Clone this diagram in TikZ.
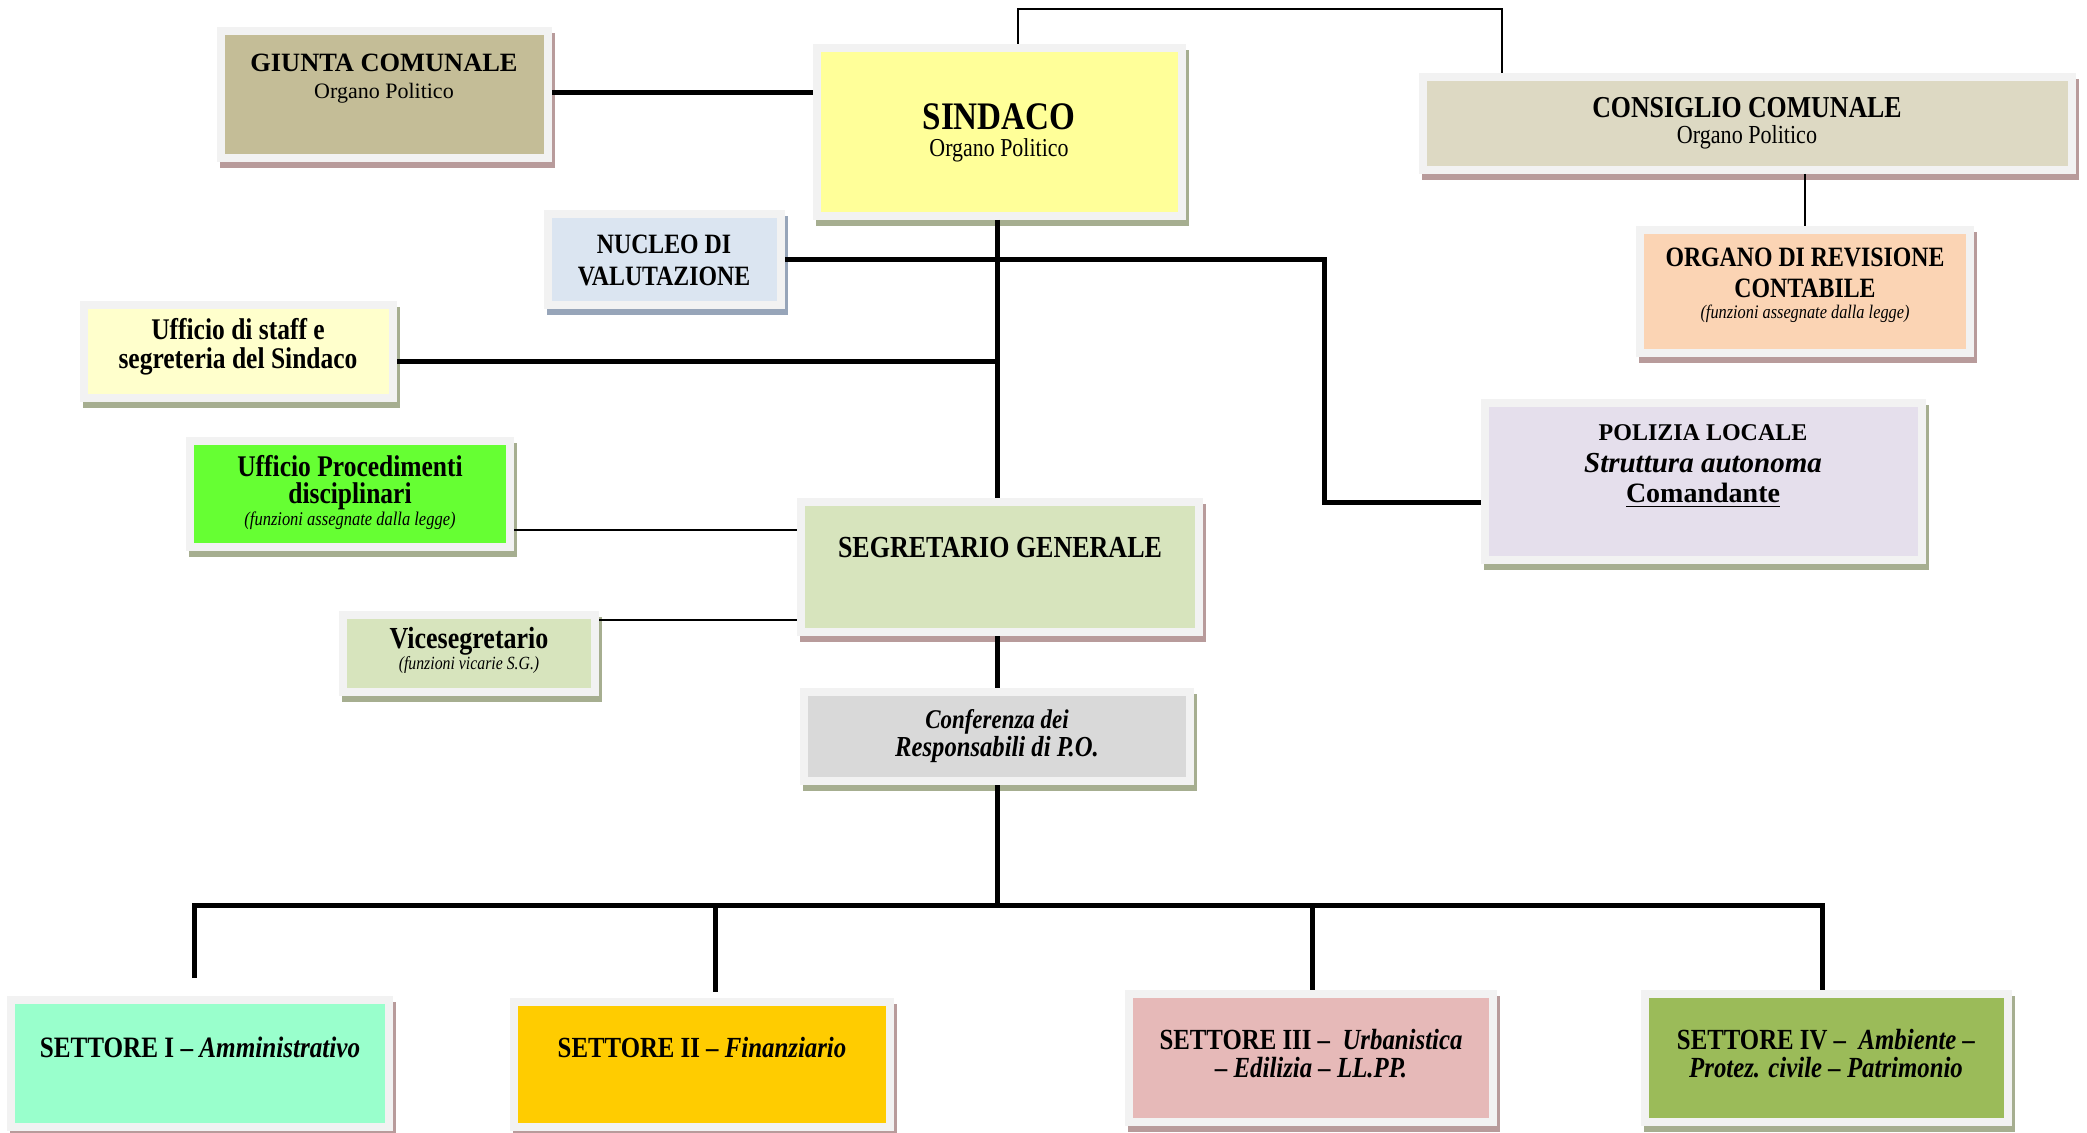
\documentclass[tikz,border=0pt]{standalone}
\usepackage{fontspec}
\setmainfont{Liberation Serif}
\newfontfamily\cf{Liberation Serif}[FakeStretch=0.85]
\usetikzlibrary{fit}
\definecolor{framegray}{HTML}{F2F2F2}
\definecolor{shpink}{HTML}{B89B9B}
\definecolor{sholive}{HTML}{A6AE90}
\definecolor{shblue}{HTML}{97A5B9}
\definecolor{cgiunta}{HTML}{C4BD97}
\definecolor{csindaco}{HTML}{FFFF99}
\definecolor{cconsiglio}{HTML}{DDD9C3}
\definecolor{corgano}{HTML}{FBD4B4}
\definecolor{cnucleo}{HTML}{DBE5F1}
\definecolor{cstaff}{HTML}{FFFFCC}
\definecolor{cproc}{HTML}{66FF33}
\definecolor{csegr}{HTML}{D7E4BD}
\definecolor{cconf}{HTML}{D9D9D9}
\definecolor{cpol}{HTML}{E5DFEC}
\definecolor{csetI}{HTML}{99FFCC}
\definecolor{csetII}{HTML}{FFCC00}
\definecolor{csetIII}{HTML}{E6B9B8}
\definecolor{csetIV}{HTML}{9BBB59}
\newcommand\setfs[1]{\fontsize{#1}{#1}\selectfont}
% name, x1, y1, x2, y2, fill, shadow
\newcommand\obox[7]{%
  \fill[#7] ({#2+3},{#3+6}) rectangle ({#4+3},{#5+6});
  \node[fit={(#2,#3)(#4,#5)}, inner sep=0pt, outer sep=0pt, fill=framegray] (#1) {};
  \fill[#6] ({#2+8},{#3+8}) rectangle ({#4-8},{#5-8});
}
\tikzset{
  txt/.style={inner sep=0pt, anchor=base, text=black},
  thickline/.style={line width=2.5pt, black},
  thinline/.style={line width=1pt, black},
  midline/.style={line width=1.4pt, black},
}
\begin{document}
\begin{tikzpicture}[x=0.5pt,y=-0.5pt]
\useasboundingbox (0,0) rectangle (2087,1133);
\fill[white] (0,0) rectangle (2087,1133);

% coordinates for connectors
\coordinate (c1) at (1018,9);
\coordinate (c2) at (1502,9);
\coordinate (yg) at (0,93);
\coordinate (vx) at (997,0);
\coordinate (pk) at (1324,260);
\coordinate (pk2) at (1324,503);
\coordinate (st) at (997,362);
\coordinate (pr) at (0,530);
\coordinate (vc) at (0,620);
\coordinate (bus) at (997,905);
\coordinate (b1) at (194,905);
\coordinate (b2) at (715,905);
\coordinate (b3) at (1312,905);
\coordinate (b4) at (1822,905);

% boxes
\obox{giunta}{217}{27}{552}{162}{cgiunta}{shpink}
\obox{sindaco}{813}{44}{1186}{220}{csindaco}{sholive}
\obox{consiglio}{1419}{73}{2076}{174}{cconsiglio}{shpink}
\obox{organo}{1636}{226}{1974}{357}{corgano}{shpink}
\obox{nucleo}{544}{210}{785}{309}{cnucleo}{shblue}
\obox{staff}{80}{301}{397}{402}{cstaff}{sholive}
\obox{proc}{186}{437}{514}{551}{cproc}{sholive}
\obox{segr}{797}{498}{1203}{636}{csegr}{shpink}
\obox{vice}{339}{611}{599}{696}{csegr}{sholive}
\obox{conf}{800}{688}{1194}{785}{cconf}{sholive}
\obox{pol}{1481}{399}{1926}{564}{cpol}{sholive}
\obox{setI}{7}{996}{393}{1131}{csetI}{shpink}
\obox{setII}{510}{998}{894}{1131}{csetII}{shpink}
\obox{setIII}{1125}{990}{1497}{1126}{csetIII}{shpink}
\obox{setIV}{1641}{990}{2012}{1126}{csetIV}{sholive}

% connectors between boxes
\draw[thinline] (c1 |- sindaco.north) -- (c1) -- (c2) -- (c2 |- consiglio.north);
\draw[thickline] (giunta.east |- yg) -- (sindaco.west |- yg);
\draw[thinline] (consiglio.south -| organo.north) -- (organo.north);
\draw[thickline] (sindaco.south -| vx) -- (segr.north -| vx);
\draw[thickline] (nucleo.east |- pk) -- (pk) -- (pk2) -- (pol.west |- pk2);
\draw[thickline] (staff.east |- st) -- (st);
\draw[midline] (proc.east |- pr) -- (segr.west |- pr);
\draw[midline] (vice.east |- vc) -- (segr.west |- vc);
\draw[thickline] (segr.south -| vx) -- (conf.north -| vx);
\draw[thickline] (conf.south -| vx) -- (bus);
\draw[thickline, line join=miter, shorten <=9pt] (b1 |- setI.north) -- (b1) -- (b4) -- (b4 |- setIV.north);
\draw[thickline, shorten >=3pt] (b2) -- (b2 |- setII.north);
\draw[thickline] (b3) -- (b3 |- setIII.north);

% texts
\node[txt] (tg1) at (384,72) {\setfs{13.2}\bfseries GIUNTA COMUNALE};
\node[txt] (tg2) at (384,99) {\setfs{11}Organo Politico};

\node[txt] (ts1) at (999,130) {\cf\setfs{19.5}\bfseries SINDACO};
\node[txt] (ts2) at (999,157) {\cf\setfs{12.9}Organo Politico};

\node[txt] (tc1) at (1747,118) {\cf\setfs{15.2}\bfseries CONSIGLIO COMUNALE};
\node[txt] (tc2) at (1747,144) {\cf\setfs{13}Organo Politico};

\node[txt] (to1) at (1805,267) {\cf\setfs{14}\bfseries ORGANO DI REVISIONE};
\node[txt] (to2) at (1805,298) {\cf\setfs{14}\bfseries CONTABILE};
\node[txt] (to3) at (1805,319) {\cf\setfs{9.6}\itshape (funzioni assegnate dalla legge)};

\node[txt] (tn1) at (664,254) {\cf\setfs{14}\bfseries NUCLEO DI};
\node[txt] (tn2) at (664,286) {\cf\setfs{14}\bfseries VALUTAZIONE};

\node[txt] (tst1) at (238,340) {\cf\setfs{15}\bfseries Ufficio di staff e};
\node[txt] (tst2) at (238,369) {\cf\setfs{15}\bfseries segreteria del Sindaco};

\node[txt] (tp1) at (350,477) {\cf\setfs{15}\bfseries Ufficio Procedimenti};
\node[txt] (tp2) at (350,504) {\cf\setfs{15}\bfseries disciplinari};
\node[txt] (tp3) at (350,525) {\cf\setfs{9.7}\itshape (funzioni assegnate dalla legge)};

\node[txt] (tsg) at (1000,558) {\cf\setfs{15.3}\bfseries SEGRETARIO GENERALE};

\node[txt] (tv1) at (469,648) {\cf\setfs{15.3}\bfseries Vicesegretario};
\node[txt] (tv2) at (469,669) {\cf\setfs{9.3}\itshape (funzioni vicarie S.G.)};

\node[txt] (tcf1) at (997,728) {\cf\setfs{13.5}\bfseries\itshape Conferenza dei};
\node[txt] (tcf2) at (997,756) {\cf\setfs{14.5}\bfseries\itshape Responsabili di P.O.};

\node[txt] (tpl1) at (1703,441) {\setfs{12}\bfseries POLIZIA LOCALE};
\node[txt] (tpl2) at (1703,473) {\setfs{14.5}\bfseries\itshape Struttura autonoma};
\node[txt] (tpl3) at (1703,503) {\setfs{14}\bfseries\underline{Comandante}};

\node[txt] (tsI) at (200,1057) {\cf\setfs{14.8}\bfseries SETTORE I – \itshape Amministrativo};
\node[txt] (tsII) at (702,1057) {\cf\setfs{14.6}\bfseries SETTORE II – \itshape Finanziario};
\node[txt] (tsIIIa) at (1311,1049) {\cf\setfs{14.6}\bfseries SETTORE III – \ \itshape Urbanistica};
\node[txt] (tsIIIb) at (1311,1077) {\cf\setfs{14.6}\bfseries\itshape – Edilizia – LL.PP.};
\node[txt] (tsIVa) at (1826,1049) {\cf\setfs{14.6}\bfseries SETTORE IV – \ \itshape Ambiente –};
\node[txt] (tsIVb) at (1826,1077) {\cf\setfs{14.6}\bfseries\itshape Protez. civile – Patrimonio};
\end{tikzpicture}
\end{document}
